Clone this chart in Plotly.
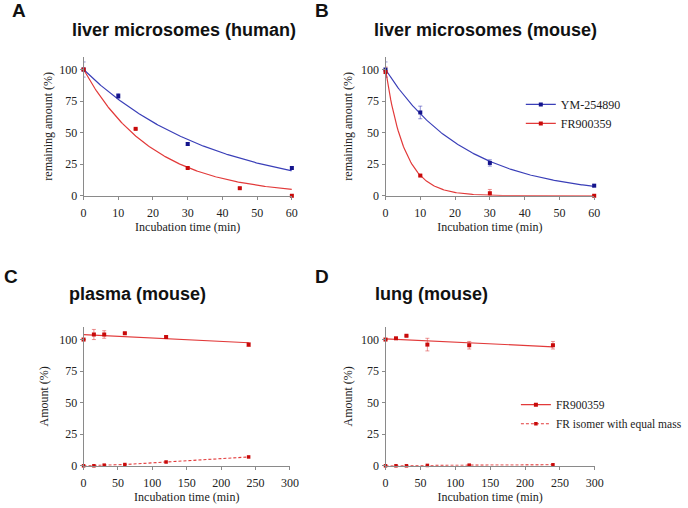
import numpy as np
import plotly.graph_objects as go

# ---------------- data ----------------
# Panel A: liver microsomes (human)
a_ym_t = [0, 10, 30, 60]
a_ym_y = [100, 79, 41, 22]
a_ym_err = [6, 2, 1, 1]
a_fr_t = [0, 15, 30, 45, 60]
a_fr_y = [100, 53, 22, 6, 0]
a_fr_err = [1, 0.5, 0.5, 0.5, 0.5]

# Panel B: liver microsomes (mouse)
b_ym_t = [0, 10, 30, 60]
b_ym_y = [100, 66, 26, 8]
b_ym_err = [6, 5, 2.5, 1]
b_fr_t = [0, 10, 30, 60]
b_fr_y = [98, 16, 2, 0]
b_fr_err = [4, 0.5, 3, 0.5]

# Panel C: plasma (mouse)
c_t = [0, 15, 30, 60, 120, 240]
c_fr_y = [100, 104, 104, 105, 102, 96]
c_fr_err = [0, 4, 3, 0.5, 1, 1.5]
c_iso_y = [0, 0, 0.5, 1, 3, 7]

# Panel D: lung (mouse)
d_t = [0, 15, 30, 60, 120, 240]
d_fr_y = [100, 101, 103, 96, 95.5, 95.5]
d_fr_err = [0, 0.5, 0.5, 5, 3, 3]
d_iso_y = [0, 0, 0, 0.3, 0.5, 0.8]

y_ticks = [0, 25, 50, 75, 100]
x_ticks_short = [0, 10, 20, 30, 40, 50, 60]
x_ticks_long = [0, 50, 100, 150, 200, 250, 300]

# ---------------- styles ----------------
BLUE_LINE = "#3a3fb8"
BLUE_MK = "#14148c"
BLUE_ERR = "rgba(60,60,180,0.55)"
RED_LINE = "#e23a3a"
RED_MK = "#c80a0a"
RED_ERR = "rgba(220,60,60,0.55)"
SERIF = "Liberation Serif, Times New Roman, serif"
SANS = "Liberation Sans, Arial, sans-serif"


def fit_decay(t, y):
    t = np.asarray(t, float)
    y = np.asarray(y, float)
    ks = np.linspace(0.001, 0.5, 20000)
    sse = [np.sum((100 * np.exp(-k * t) - y) ** 2) for k in ks]
    return ks[int(np.argmin(sse))]


fig = go.Figure()


def add_points(x, y, err, mk, errc, xa, ya, name=None):
    fig.add_trace(go.Scatter(
        x=x, y=y, mode="markers", xaxis=xa, yaxis=ya, showlegend=False,
        marker=dict(symbol="square", size=4, color=mk),
        error_y=dict(type="data", array=err, visible=True, color=errc, thickness=1, width=2),
        cliponaxis=False, name=name))


def add_decay(t, y, xmax, color, xa, ya):
    k = fit_decay(t, y)
    xs = np.linspace(0, xmax, 200)
    fig.add_trace(go.Scatter(x=xs, y=100 * np.exp(-k * xs), mode="lines", xaxis=xa, yaxis=ya,
                             showlegend=False, line=dict(color=color, width=1.2)))


def add_linear(t, y, color, xa, ya):
    slope, inter = np.polyfit(t, y, 1)
    xs = np.array([0, max(t)])
    fig.add_trace(go.Scatter(x=xs, y=inter + slope * xs, mode="lines", xaxis=xa, yaxis=ya,
                             showlegend=False, line=dict(color=color, width=1.2)))


# Panel A
add_decay(a_ym_t, a_ym_y, 60, BLUE_LINE, "x", "y")
add_decay(a_fr_t, a_fr_y, 60, RED_LINE, "x", "y")
add_points(a_ym_t, a_ym_y, a_ym_err, BLUE_MK, BLUE_ERR, "x", "y")
add_points(a_fr_t, a_fr_y, a_fr_err, RED_MK, RED_ERR, "x", "y")

# Panel B
add_decay(b_ym_t, b_ym_y, 60, BLUE_LINE, "x2", "y2")
add_decay(b_fr_t, b_fr_y, 60, RED_LINE, "x2", "y2")
add_points(b_ym_t, b_ym_y, b_ym_err, BLUE_MK, BLUE_ERR, "x2", "y2")
add_points(b_fr_t, b_fr_y, b_fr_err, RED_MK, RED_ERR, "x2", "y2")
for nm, lc, mc in [("YM-254890", BLUE_LINE, BLUE_MK), ("FR900359", RED_LINE, RED_MK)]:
    fig.add_trace(go.Scatter(x=[None], y=[None], mode="lines+markers", name=nm, xaxis="x2", yaxis="y2",
                             line=dict(color=lc, width=1.2), marker=dict(symbol="square", size=4, color=mc),
                             legend="legend"))

# Panel C
add_linear(c_t, c_fr_y, RED_LINE, "x3", "y3")
add_points(c_t, c_fr_y, c_fr_err, RED_MK, RED_ERR, "x3", "y3")
fig.add_trace(go.Scatter(x=c_t, y=c_iso_y, mode="lines+markers", xaxis="x3", yaxis="y3", showlegend=False,
                         line=dict(color=RED_LINE, width=1.1, dash="3px,2px"),
                         marker=dict(symbol="square", size=3.5, color=RED_MK), cliponaxis=False))

# Panel D
add_linear(d_t, d_fr_y, RED_LINE, "x4", "y4")
add_points(d_t, d_fr_y, d_fr_err, RED_MK, RED_ERR, "x4", "y4")
fig.add_trace(go.Scatter(x=d_t, y=d_iso_y, mode="lines+markers", xaxis="x4", yaxis="y4", showlegend=False,
                         line=dict(color=RED_LINE, width=1.1, dash="3px,2px"),
                         marker=dict(symbol="square", size=3.5, color=RED_MK), cliponaxis=False))
fig.add_trace(go.Scatter(x=[None], y=[None], mode="lines+markers", name="FR900359", xaxis="x4", yaxis="y4",
                         line=dict(color=RED_LINE, width=1.2), marker=dict(symbol="square", size=4, color=RED_MK),
                         legend="legend2"))
fig.add_trace(go.Scatter(x=[None], y=[None], mode="lines+markers", name="FR isomer with equal mass",
                         xaxis="x4", yaxis="y4",
                         line=dict(color=RED_LINE, width=1.1, dash="3px,2px"),
                         marker=dict(symbol="square", size=3.5, color=RED_MK), legend="legend2"))

W, H = 688, 508


def px_x(p):
    return p / W


def px_y(p):
    return (H - p) / H


def xax(d0, d1, rng, ticks, anchor):
    return dict(domain=[px_x(d0), px_x(d1)], range=rng, tickvals=ticks, anchor=anchor,
                showline=True, linecolor="#8a8a8a", linewidth=1, ticks="outside", ticklen=3,
                tickcolor="#8a8a8a", showgrid=False, zeroline=False, ticklabelstandoff=3,
                tickfont=dict(family=SERIF, size=12, color="#222"),
                title=dict(text="Incubation time (min)", font=dict(family=SERIF, size=12, color="#222"),
                           standoff=2))


def yax(top, bottom, anchor, title, standoff):
    return dict(domain=[px_y(bottom), px_y(top)], range=[0, 110], tickvals=y_ticks, anchor=anchor,
                showline=True, linecolor="#8a8a8a", linewidth=1, ticks="outside", ticklen=3,
                tickcolor="#8a8a8a", showgrid=False, zeroline=False,
                tickfont=dict(family=SERIF, size=12, color="#222"),
                title=dict(text=title, font=dict(family=SERIF, size=12, color="#222"), standoff=standoff))


fig.update_layout(
    width=W, height=H, margin=dict(l=0, r=0, t=0, b=0),
    paper_bgcolor="white", plot_bgcolor="white",
    xaxis=xax(82, 294, [0, 60], x_ticks_short, "y"),
    yaxis=yax(57.7, 198.5, "x", "remaining amount (%)", 3),
    xaxis2=xax(389.3, 601.7, [0, 60], x_ticks_short, "y2"),
    yaxis2=yax(57.7, 198.5, "x2", "remaining amount (%)", 5),
    xaxis3=xax(82, 292, [0, 300], x_ticks_long, "y3"),
    yaxis3=yax(331.5, 472.3, "x3", "Amount (%)", 7),
    xaxis4=xax(389.3, 602.3, [0, 300], x_ticks_long, "y4"),
    yaxis4=yax(331.5, 472.3, "x4", "Amount (%)", 5),
    legend=dict(x=px_x(527), y=px_y(115.5), xanchor="left", yanchor="middle",
                font=dict(family=SERIF, size=12, color="#222"), bgcolor="rgba(0,0,0,0)",
                tracegroupgap=0, itemwidth=30),
    legend2=dict(x=px_x(522), y=px_y(420), xanchor="left", yanchor="middle",
                 font=dict(family=SERIF, size=11.5, color="#222"), bgcolor="rgba(0,0,0,0)",
                 tracegroupgap=0, itemwidth=30),
    showlegend=True,
)

titles = [("liver microsomes (human)", 184, 30), ("liver microsomes (mouse)", 491, 30),
          ("plasma (mouse)", 137, 298), ("lung (mouse)", 436, 298)]
for txt, x, y in titles:
    fig.add_annotation(text=txt, x=px_x(x), y=px_y(y), xref="paper", yref="paper", showarrow=False,
                       xanchor="center", yanchor="middle",
                       font=dict(family=SANS, size=18, color="#111", weight="bold"))

letters = [("A", 16, 11), ("B", 325, 11), ("C", 8, 280), ("D", 325, 280)]
for txt, x, y in letters:
    fig.add_annotation(text=txt, x=px_x(x), y=px_y(y), xref="paper", yref="paper", showarrow=False,
                       xanchor="center", yanchor="middle",
                       font=dict(family=SANS, size=19, color="#111", weight="bold"))

fig.write_html("out.html", config={"displayModeBar": False},
               post_script="document.body.style.margin='0';")
